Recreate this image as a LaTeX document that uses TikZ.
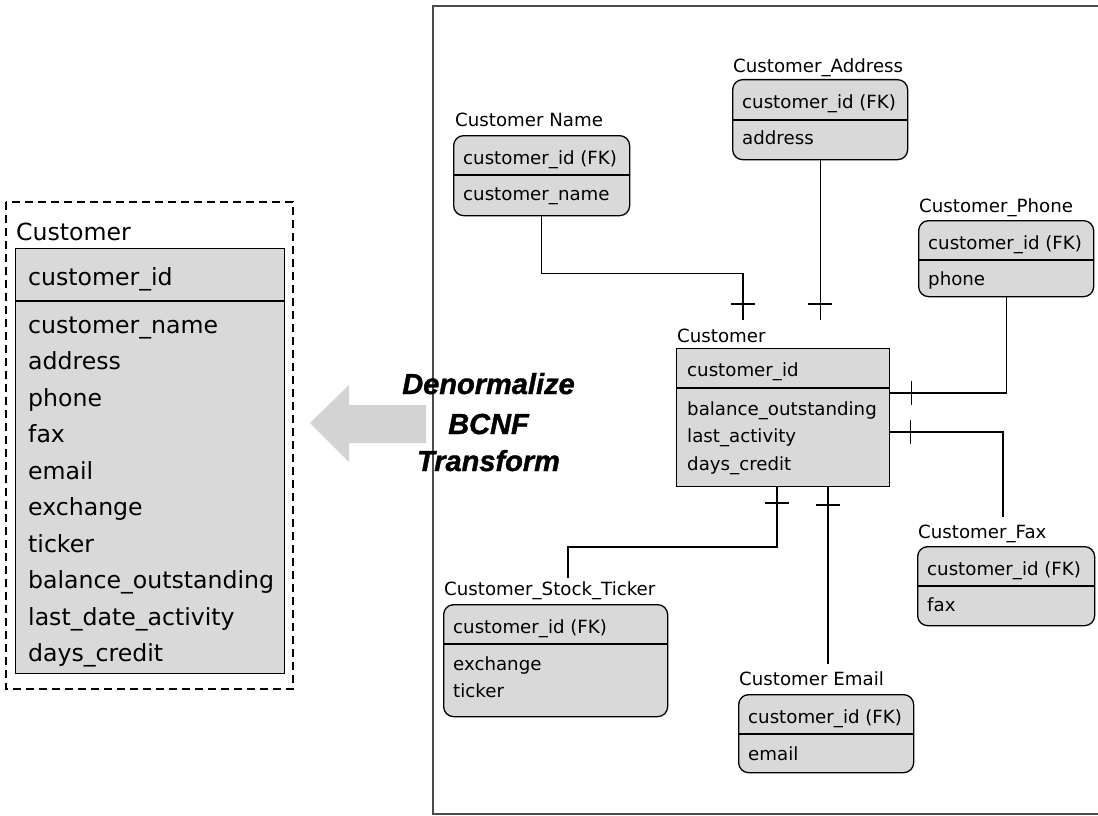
\documentclass[tikz,border=0pt]{standalone}
\usepackage{fontspec}
\setmainfont{DejaVu Sans}
\newfontfamily\denorm{Liberation Sans}[BoldItalicFeatures={FakeBold=1.2}]
\usetikzlibrary{calc}
\definecolor{boxgray}{RGB}{217,217,217}
\definecolor{arrowgray}{RGB}{211,211,211}
\definecolor{framegray}{RGB}{75,75,75}
\begin{document}
\begin{tikzpicture}[x=1pt,y=-1pt,
  lbl/.style={anchor=base west, inner sep=0pt, font=\fontsize{18.2}{22}\selectfont},
  biglbl/.style={anchor=base west, inner sep=0pt, font=\fontsize{23.6}{28}\selectfont},
  ebox/.style={draw=black, fill=boxgray, line width=1.3pt, rounded corners=10pt, inner sep=0pt, anchor=north west},
  tbox/.style={draw=black, fill=boxgray, line width=1.3pt, inner sep=0pt, anchor=north west},
  divline/.style={line width=1.3pt},
  conn/.style={line width=1.2pt},
  tickmark/.style={line width=1.2pt},
  bold/.style={inner sep=0pt, anchor=base, font=\denorm\bfseries\itshape\fontsize{29}{34}\selectfont}
]
\useasboundingbox (0,0) rectangle (1098,816);

% frame
\draw[framegray, line width=2pt] (1098,6) -- (433,6) -- (433,814) -- (1098,814);

% ---------- left denormalized table ----------
\draw[line width=1.1pt, dash pattern=on 8pt off 5pt] (6,202) rectangle (293,689);
\node[biglbl] (lcl) at (16,240) {Customer};
\node[tbox, minimum width=269pt, minimum height=425pt] (lc) at (15,248) {};
\draw[divline] (lc.west |- 0,301) -- (lc.east |- 0,301);
\node[biglbl] (lc0) at (28,285) {customer\_id};
\node[biglbl] (lc1) at (28,333) {customer\_name};
\node[biglbl] (lc2) at (28,369.5) {address};
\node[biglbl] (lc3) at (28,406) {phone};
\node[biglbl] (lc4) at (28,442.5) {fax};
\node[biglbl] (lc5) at (28,479) {email};
\node[biglbl] (lc6) at (28,515.5) {exchange};
\node[biglbl] (lc7) at (28,552) {ticker};
\node[biglbl] (lc8) at (28,588.5) {balance\_outstanding};
\node[biglbl] (lc9) at (28,625) {last\_date\_activity};
\node[biglbl] (lc10) at (28,661.5) {days\_credit};

% ---------- arrow ----------
\fill[arrowgray] (310,423) -- (349,385) -- (349,405) -- (426,405) -- (426,443) -- (349,443) -- (349,462) -- cycle;
\node[bold] (t1) at (488.5,394) {Denormalize};
\node[bold] (t2) at (488.5,434) {BCNF};
\node[bold] (t3) at (488.5,471) {Transform};

% ---------- central Customer ----------
\node[lbl] (ccl) at (677,342) {Customer};
\node[tbox, minimum width=213pt, minimum height=138pt] (cc) at (676,348) {};
\draw[divline] (cc.west |- 0,388) -- (cc.east |- 0,388);
\node[lbl] (cc0) at (687,376) {customer\_id};
\node[lbl] (cc1) at (687,415) {balance\_outstanding};
\node[lbl] (cc2) at (687,442) {last\_activity};
\node[lbl] (cc3) at (687,470) {days\_credit};

% ---------- Customer Name ----------
\node[lbl] (cnl) at (455,126) {Customer Name};
\node[ebox, minimum width=176pt, minimum height=80pt] (cn) at (453,135) {};
\draw[divline] (cn.west |- 0,175) -- (cn.east |- 0,175);
\node[lbl] (cn0) at (463,164) {customer\_id (FK)};
\node[lbl] (cn1) at (463,200) {customer\_name};

% ---------- Customer_Address ----------
\node[lbl] (cal) at (733,73) {Customer\_Address};
\node[ebox, minimum width=175pt, minimum height=80pt] (ca) at (732,79) {};
\draw[divline] (ca.west |- 0,120) -- (ca.east |- 0,120);
\node[lbl] (ca0) at (742,108) {customer\_id (FK)};
\node[lbl] (ca1) at (742,144) {address};

% ---------- Customer_Phone ----------
\node[lbl] (cpl) at (919,212) {Customer\_Phone};
\node[ebox, minimum width=175pt, minimum height=76pt] (cp) at (918,220) {};
\draw[divline] (cp.west |- 0,260) -- (cp.east |- 0,260);
\node[lbl] (cp0) at (928,249) {customer\_id (FK)};
\node[lbl] (cp1) at (928,285) {phone};

% ---------- Customer_Fax ----------
\node[lbl] (cfl) at (918,538) {Customer\_Fax};
\node[ebox, minimum width=177pt, minimum height=79pt] (cf) at (917,546) {};
\draw[divline] (cf.west |- 0,586) -- (cf.east |- 0,586);
\node[lbl] (cf0) at (927,575) {customer\_id (FK)};
\node[lbl] (cf1) at (927,611) {fax};

% ---------- Customer_Stock_Ticker ----------
\node[lbl] (csl) at (444,595) {Customer\_Stock\_Ticker};
\node[ebox, minimum width=224pt, minimum height=112pt] (cs) at (443,604) {};
\draw[divline] (cs.west |- 0,644) -- (cs.east |- 0,644);
\node[lbl] (cs0) at (453,633) {customer\_id (FK)};
\node[lbl] (cs1) at (453,670) {exchange};
\node[lbl] (cs2) at (453,697) {ticker};

% ---------- Customer Email ----------
\node[lbl] (cel) at (739,685) {Customer Email};
\node[ebox, minimum width=175pt, minimum height=78pt] (ce) at (738,694) {};
\draw[divline] (ce.west |- 0,734) -- (ce.east |- 0,734);
\node[lbl] (ce0) at (748,723) {customer\_id (FK)};
\node[lbl] (ce1) at (748,760) {email};

% ---------- connectors ----------
% Customer Name
\coordinate (n1) at (743,320);
\draw[conn] (cn.south) -- ++(0,57) -| (n1);
\draw[tickmark] ($(n1)+(-12,-16)$) -- ++(24,0);
% Customer_Address
\coordinate (n2) at (ca.south |- 0,320);
\draw[conn] (ca.south) -- (n2);
\draw[tickmark] ($(n2)+(-12,-16)$) -- ++(24,0);
% Customer_Phone
\coordinate (n3) at (cc.east |- 0,393);
\draw[conn] (cp.south) |- (n3);
\draw[tickmark] ($(n3)+(21,-12)$) -- ++(0,24);
% Customer_Fax
\coordinate (n4) at (cc.east |- 0,432);
\coordinate (fxend) at (1003,517);
\draw[conn] (n4) -| (fxend);
\draw[tickmark] ($(n4)+(20,-12)$) -- ++(0,24);
% Customer_Stock_Ticker
\coordinate (n5) at (777,486);
\coordinate (stend) at (568,578);
\draw[conn] (stend) -- ++(0,-31) -| (n5);
\draw[tickmark] ($(n5)+(-12,17)$) -- ++(24,0);
% Customer Email
\coordinate (n6) at (828,486);
\coordinate (emend) at (828,664);
\draw[conn] (n6) -- (emend);
\draw[tickmark] ($(n6)+(-12,19)$) -- ++(24,0);
\end{tikzpicture}
\end{document}
